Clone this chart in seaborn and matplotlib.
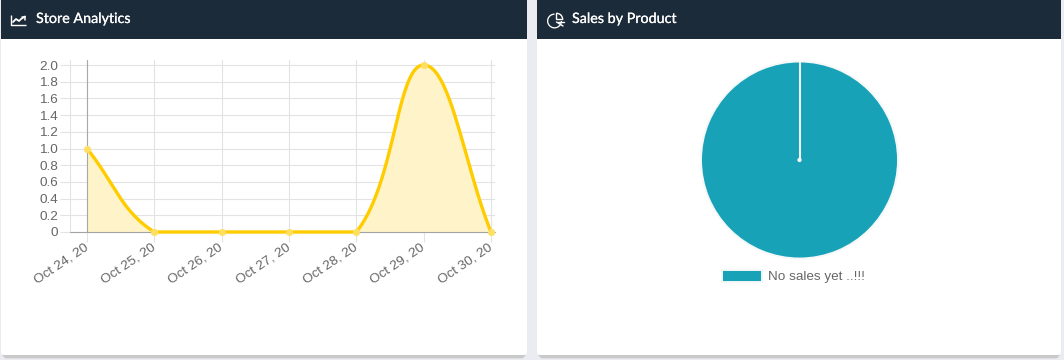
import numpy as np
import pandas as pd
import matplotlib
matplotlib.use("Agg")
import matplotlib.pyplot as plt
import matplotlib.patheffects as pe
from matplotlib.patches import FancyBboxPatch, Rectangle, Wedge, Circle
import seaborn as sns

# data
dates = ["Oct 24, 20", "Oct 25, 20", "Oct 26, 20", "Oct 27, 20", "Oct 28, 20", "Oct 29, 20", "Oct 30, 20"]
sales = [1, 0, 0, 0, 0, 2, 0]
y_ticks = [0, 0.2, 0.4, 0.6, 0.8, 1.0, 1.2, 1.4, 1.6, 1.8, 2.0]
y_labels = ["0", "0.2", "0.4", "0.6", "0.8", "1.0", "1.2", "1.4", "1.6", "1.8", "2.0"]
products = ["No sales yet ..!!!"]
product_sales = [1]

W, H = 1064, 360
NAVY = "#1c2b39"
GRID = "#e3e3e3"
YELLOW = "#ffcc00"
TEAL = "#18a2b8"
TICK = "#666666"


def rect(l, t, r, b):
    # pixel box (from top left) to figure fractions
    return [l / W, 1 - b / H, (r - l) / W, (b - t) / H]


def smooth_curve(xs, ys, sx, sy, tension=0.4, n=40):
    # bezier line like the one chart.js draws, worked out in pixel space
    p = np.column_stack([np.array(xs) * sx, np.array(ys) * sy]).astype(float)
    out = []
    c_prev, c_next = [], []
    for i in range(len(p)):
        a = p[max(i - 1, 0)]
        b = p[i]
        c = p[min(i + 1, len(p) - 1)]
        d01 = np.hypot(*(b - a))
        d12 = np.hypot(*(c - b))
        s01 = d01 / (d01 + d12)
        s12 = d12 / (d01 + d12)
        c_prev.append(b - tension * s01 * (c - a))
        c_next.append(b + tension * s12 * (c - a))
    lo, hi = min(ys) * sy, max(ys) * sy
    for i in range(len(p) - 1):
        p1 = np.array([c_next[i][0], np.clip(c_next[i][1], lo, hi)])
        p2 = np.array([c_prev[i + 1][0], np.clip(c_prev[i + 1][1], lo, hi)])
        t = np.linspace(0, 1, n)[:, None]
        seg = (1 - t) ** 3 * p[i] + 3 * (1 - t) ** 2 * t * p1 + 3 * (1 - t) * t ** 2 * p2 + t ** 3 * p[i + 1]
        out.append(seg)
    out = np.vstack(out)
    return out[:, 0] / sx, out[:, 1] / sy


sns.set_theme(style="white")
plt.rcParams["font.family"] = ["Liberation Sans", "DejaVu Sans"]

fig = plt.figure(figsize=(W / 100, H / 100), dpi=100, facecolor="#ebecf1")

# page layer: cards, headers and icons, in pixels
bg = fig.add_axes([0, 0, 1, 1], zorder=0)
bg.set_xlim(0, W)
bg.set_ylim(H, 0)
bg.axis("off")

for l, r in [(1, 527), (537, 1061)]:
    bg.add_patch(FancyBboxPatch((l + 3, 10), r - l - 6, 347, boxstyle="round,pad=0,rounding_size=3",
                                fc="#c9c9c9", ec="#c9c9c9", lw=2))
    bg.add_patch(FancyBboxPatch((l + 3, 3), r - l - 6, 349, boxstyle="round,pad=3,rounding_size=3",
                                fc="white", ec="none"))
    bg.add_patch(Rectangle((l, 0), r - l, 39, fc=NAVY, ec="none"))

for px, title in [(36, "Store Analytics"), (572, "Sales by Product")]:
    bg.text(px, 19, title, color="white", fontsize=10.3, family="Lato", va="center", ha="left",
            path_effects=[pe.withStroke(linewidth=0.15, foreground="white")])

# line chart icon
bg.plot([11, 11, 26], [15, 25, 25], color="white", lw=1.0, solid_capstyle="butt")
bg.plot([13, 16, 19, 21, 25], [22, 19, 21, 19, 16.5], color="white", lw=1.3)
bg.plot([21.5, 25, 25], [16.5, 16.5, 20], color="white", lw=1.1)

# pie chart icon
bg.add_patch(Wedge((554.5, 21), 7.5, 0, 270, width=1.3, fc="white", ec="none"))
bg.add_patch(Wedge((556.5, 19.5), 6.2, 270, 360, fc="none", ec="white", lw=1.0))
bg.plot([556.5, 563], [22, 26], color="white", lw=1.0)
bg.plot([558, 564], [21.5, 21.5], color="white", lw=1.0)

# line chart
x_step = 67.33
y_unit = 83.5
ax = fig.add_axes(rect(70, 60, 495, 232), zorder=1)
ax.patch.set_alpha(0)
ax.set_xlim(-17 / x_step, (495 - 87) / x_step)
ax.set_ylim(0, (232 - 60) / y_unit)

xs = np.arange(len(dates))
df = pd.DataFrame({"date": xs, "sales": sales})
cx, cy = smooth_curve(xs, sales, x_step, y_unit)
curve = pd.DataFrame({"x": cx, "y": cy})

ax.fill_between(cx, 0, cy, color="#fff3c9", lw=0, zorder=2)
sns.lineplot(data=curve, x="x", y="y", sort=False, estimator=None, color=YELLOW, lw=2.4, ax=ax, zorder=4,
             clip_on=False)
sns.scatterplot(data=df, x="date", y="sales", marker="o", s=22, color="#ffdf5e", edgecolor="#ffe070", linewidth=0.5,
                ax=ax, zorder=5, clip_on=False)

ax.set_xlabel("")
ax.set_ylabel("")
ax.set_xticks(xs)
ax.set_xticklabels(dates, rotation=34, ha="right", va="center", rotation_mode="anchor", fontsize=9.7, color=TICK)
ax.set_yticks(y_ticks)
ax.set_yticklabels(y_labels, fontsize=9.7, color=TICK)
ax.grid(True, color=GRID, lw=0.8, zorder=0)
ax.set_axisbelow(True)
ax.tick_params(axis="y", length=7, width=0.8, color=GRID, pad=1.5, left=True)
ax.tick_params(axis="x", length=7, width=0.8, color=GRID, pad=3.5, bottom=True)
for name, sp in ax.spines.items():
    sp.set_visible(name == "left")
    sp.set_color(GRID)
    sp.set_linewidth(0.8)
ax.axhline(0, color="#a3a3a3", lw=0.8, zorder=3, clip_on=False)
ax.yaxis.get_ticklines()[0].set_color("#a3a3a3")
ax.axvline(0, color="#a8a8a8", lw=0.8, zorder=3)

# pie chart
pie_ax = fig.add_axes(rect(799.5 - 98.5, 160 - 98.5, 799.5 + 98.5, 160 + 98.5), zorder=1)
wedges, _ = pie_ax.pie(product_sales, colors=[TEAL], startangle=90, counterclock=False, radius=1,
                       wedgeprops={"edgecolor": "#f4f8f9", "linewidth": 1.4})
pie_ax.set_xlim(-1, 1)
pie_ax.set_ylim(-1, 1)
# seam of the single slice
pie_ax.plot([0, 0], [0, 1], color="#eef6f7", lw=1.5, solid_capstyle="butt", zorder=5)
pie_ax.add_patch(Circle((0, 0), 0.022, fc="#f4f8f9", ec="none", zorder=5))

fs = 9.7
leg = fig.legend(wedges, products, loc="center left", bbox_to_anchor=(722 / W, 1 - 276.5 / H), frameon=False,
                 fontsize=fs, handlelength=29 / fs, handleheight=9.4 / fs, handletextpad=0.42,
                 borderpad=0, borderaxespad=0)
for t in leg.get_texts():
    t.set_color(TICK)

fig.savefig("out.png", dpi=100, facecolor=fig.get_facecolor())
